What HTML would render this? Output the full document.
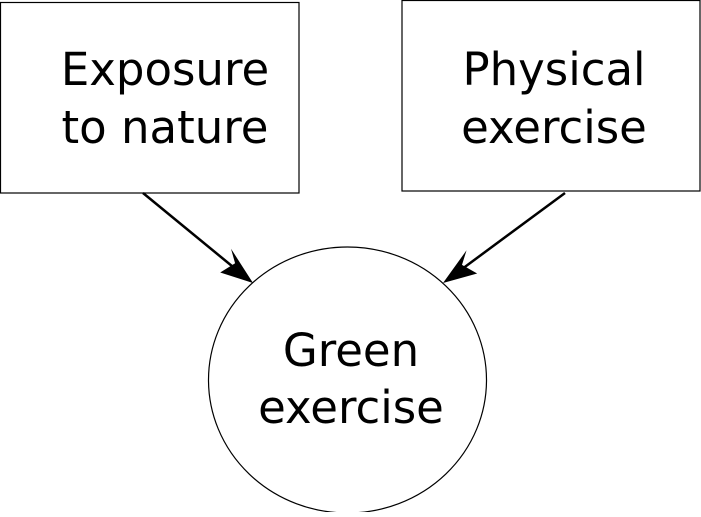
<!DOCTYPE html>
<html><head><style>body{margin:0;background:#fff}</style></head><body>
<svg width="701" height="512" viewBox="0 0 701 512" xmlns="http://www.w3.org/2000/svg">
<rect x="0.5" y="2.5" width="298.5" height="190.5" fill="#fff" stroke="#000" stroke-width="1.2"/>
<rect x="402" y="0.5" width="298" height="190.5" fill="#fff" stroke="#000" stroke-width="1.2"/>
<ellipse cx="347.5" cy="380" rx="139" ry="133" fill="#fff" stroke="#000" stroke-width="1.2"/>
<g stroke="#000" stroke-width="2.5">
<line x1="143" y1="193" x2="238" y2="271"/>
<line x1="565" y1="193" x2="458" y2="272"/>
</g>
<path d="M253,283 L222,268 L238,261 L236,246 z" fill="#000" transform="rotate(-8 253 283)"/>
<path d="M443,283 L476,270 L460,263 L463,248 z" fill="#000" transform="rotate(6 443 283)"/>
<g font-family="DejaVu Sans, sans-serif" font-size="45" text-anchor="middle" fill="#000">
<text x="165" y="85">Exposure</text>
<text x="165" y="143">to nature</text>
<text x="554" y="85">Physical</text>
<text x="554" y="143">exercise</text>
<text x="351" y="366">Green</text>
<text x="351" y="423">exercise</text>
</g>
</svg>
</body></html>
